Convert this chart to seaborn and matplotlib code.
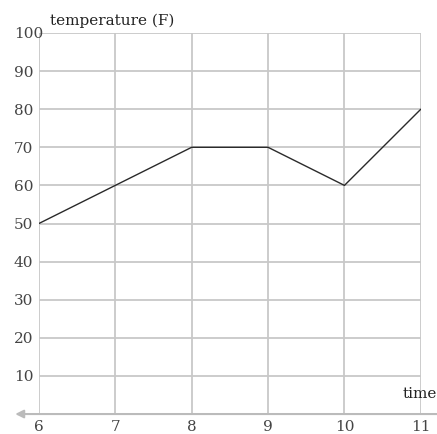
import matplotlib
matplotlib.use("Agg")
import matplotlib.pyplot as plt
import seaborn as sns
import pandas as pd

# data
hours = [6, 7, 8, 9, 10, 11]
temps = [50, 60, 70, 70, 60, 80]
x_ticks = [6, 7, 8, 9, 10, 11]
y_ticks = [10, 20, 30, 40, 50, 60, 70, 80, 90, 100]

df = pd.DataFrame({"time": hours, "temperature": temps})

sns.set_style("white")
plt.rcParams['font.family'] = ['DejaVu Serif']

fig = plt.figure(figsize=(4.37, 4.34), dpi=100)
ax = fig.add_axes([0.089, 0.046, 0.874, 0.878])

sns.lineplot(data=df, x="time", y="temperature", ax=ax, color="#2a2a2a", linewidth=1.0)

ax.set_xlim(6, 11)
ax.set_ylim(0, 100)
ax.set_xticks(x_ticks)
ax.set_yticks(y_ticks)
for v in x_ticks:
    ax.axvline(v, color="#c8c8c8", linewidth=1.3, zorder=0)
for v in y_ticks:
    ax.axhline(v, color="#c8c8c8", linewidth=1.3, zorder=0)

for s in ax.spines.values():
    s.set_visible(False)
ax.tick_params(length=0, labelsize=11, colors="#444444")
ax.tick_params(axis='x', pad=4)
ax.tick_params(axis='y', pad=18)
for lab in ax.get_yticklabels():
    lab.set_horizontalalignment("left")
ax.set_xlabel("")
ax.set_ylabel("")

# horizontal axis with arrows at both ends
ax.annotate("", xy=(5.69, 0), xytext=(11.42, 0), xycoords="data",
            arrowprops=dict(arrowstyle="<|-|>", color="#bbbbbb", lw=1.5,
                            mutation_scale=12, shrinkA=0, shrinkB=0),
            annotation_clip=False)

ax.text(10.76, 3.3, "time", fontsize=11, color="#222222", ha="left", va="bottom")
ax.text(6.14, 101.2, "temperature (F)", fontsize=11, color="#222222", ha="left", va="bottom")

fig.savefig("out.png", dpi=100)
